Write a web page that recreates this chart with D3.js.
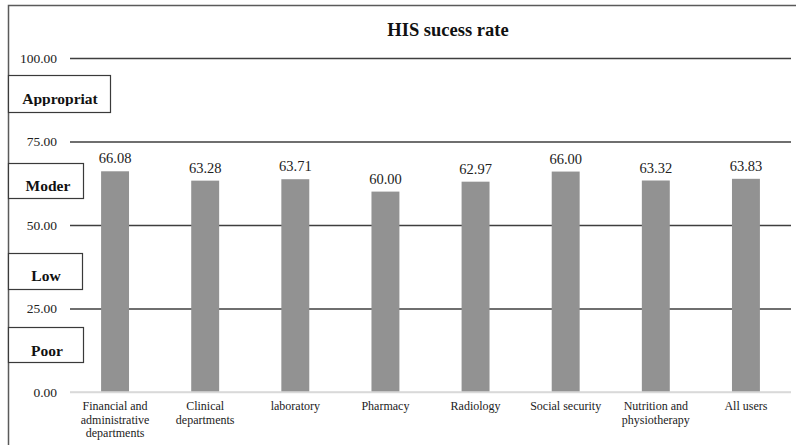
<!DOCTYPE html>
<html>
<head>
<meta charset="utf-8">
<script src="https://cdn.jsdelivr.net/npm/d3@7"></script>
<style>
  html, body { margin: 0; padding: 0; background: #fff; }
  svg { display: block; }
  svg text { font-family: "Liberation Serif", "Times New Roman", serif !important; }
</style>
</head>
<body>
<svg id="chart" width="796" height="445"></svg>
<script>
// Groups of users and their mean HIS success score
const categories = [
  "Financial and\nadministrative\ndepartments",
  "Clinical\ndepartments",
  "laboratory",
  "Pharmacy",
  "Radiology",
  "Social security",
  "Nutrition and\nphysiotherapy",
  "All users"
];
const successRate = [66.08, 63.28, 63.71, 60.00, 62.97, 66.00, 63.32, 63.83];
const yTicks = [0, 25, 50, 75, 100];
// Rating bands shown as boxed labels on the left
const bandLabels = ["Appropriat", "Moder", "Low", "Poor"];

const svg = d3.select("#chart");
const W = 796, H = 445;
const plotLeft = 70, plotRight = 791;

const x = d3.scaleBand()
  .domain(categories)
  .range([plotLeft, plotRight])
  .paddingInner(0.69)
  .paddingOuter(0.345);

const y = d3.scaleLinear().domain([0, 100]).range([392, 58]);

// outer frame (left and top edges)
svg.append("path")
  .attr("d", `M8.5,${H} V5.5 H${W}`)
  .attr("fill", "none")
  .attr("stroke", "#5a5a5a")
  .attr("stroke-width", 1.5);

// title
svg.append("text")
  .attr("x", 448).attr("y", 36)
  .attr("text-anchor", "middle")
  .attr("font-weight", "bold")
  .attr("font-size", 18.5)
  .attr("fill", "#111")
  .text("HIS sucess rate");

// horizontal gridlines
const yAxis = d3.axisLeft(y)
  .tickValues(yTicks)
  .tickSize(-(plotRight - plotLeft))
  .tickPadding(13)
  .tickFormat(d3.format(".2f"));

const gy = svg.append("g")
  .attr("transform", `translate(${plotLeft},0)`)
  .call(yAxis);
gy.select(".domain").remove();
gy.selectAll(".tick line")
  .attr("stroke", d => d === 0 ? "#d9d9d9" : "#3f3f3f")
  .attr("stroke-width", d => d === 0 ? 1.3 : 1.5);
gy.selectAll(".tick text")
  .attr("font-size", 13.5)
  .attr("fill", "#222");

// bars
svg.append("g").selectAll("rect")
  .data(successRate)
  .join("rect")
  .attr("x", (d, i) => x(categories[i]))
  .attr("width", x.bandwidth())
  .attr("y", d => y(d))
  .attr("height", d => y(0) - y(d))
  .attr("fill", "#929292");

// redraw the baseline over the bar bottoms
svg.append("line")
  .attr("x1", plotLeft).attr("x2", plotRight)
  .attr("y1", y(0)).attr("y2", y(0))
  .attr("stroke", "#d9d9d9").attr("stroke-width", 1.3);

// value labels
svg.append("g").selectAll("text")
  .data(successRate)
  .join("text")
  .attr("x", (d, i) => x(categories[i]) + x.bandwidth() / 2)
  .attr("y", d => y(d) - 8)
  .attr("text-anchor", "middle")
  .attr("font-size", 14.5)
  .attr("fill", "#222")
  .text(d => d3.format(".2f")(d));

// category labels
const xl = svg.append("g").selectAll("text")
  .data(categories)
  .join("text")
  .attr("x", d => x(d) + x.bandwidth() / 2)
  .attr("y", 410)
  .attr("text-anchor", "middle")
  .attr("font-size", 12)
  .attr("fill", "#222");
xl.each(function (d) {
  const t = d3.select(this);
  d.split("\n").forEach((line, i) => {
    t.append("tspan")
      .attr("x", t.attr("x"))
      .attr("dy", i === 0 ? 0 : 13.5)
      .text(line);
  });
});

// rating band boxes
const boxes = [
  { x0: 8, x1: 110, y0: 75, y1: 112, tx: 60, ty: 104 },
  { x0: 8, x1: 83, y0: 163, y1: 198, tx: 48, ty: 191 },
  { x0: 8, x1: 82, y0: 253, y1: 289, tx: 46, ty: 281 },
  { x0: 8, x1: 83, y0: 327, y1: 362, tx: 47, ty: 356 }
];
const defs = svg.append("defs");
const bg = svg.append("g");
boxes.forEach((b, i) => {
  defs.append("clipPath").attr("id", "clip" + i)
    .append("rect")
    .attr("x", b.x0).attr("y", b.y0)
    .attr("width", b.x1 - b.x0).attr("height", (b.ty + 2) - b.y0);
  bg.append("rect")
    .attr("x", b.x0 + 0.5).attr("y", b.y0 + 0.5)
    .attr("width", b.x1 - b.x0).attr("height", b.y1 - b.y0)
    .attr("fill", "#fff")
    .attr("stroke", "#3a3a3a").attr("stroke-width", 1.2);
  bg.append("text")
    .attr("clip-path", `url(#clip${i})`)
    .attr("x", b.tx).attr("y", b.ty)
    .attr("text-anchor", "middle")
    .attr("font-weight", "bold")
    .attr("font-size", 15.5)
    .attr("fill", "#111")
    .text(bandLabels[i]);
});
</script>
</body>
</html>
